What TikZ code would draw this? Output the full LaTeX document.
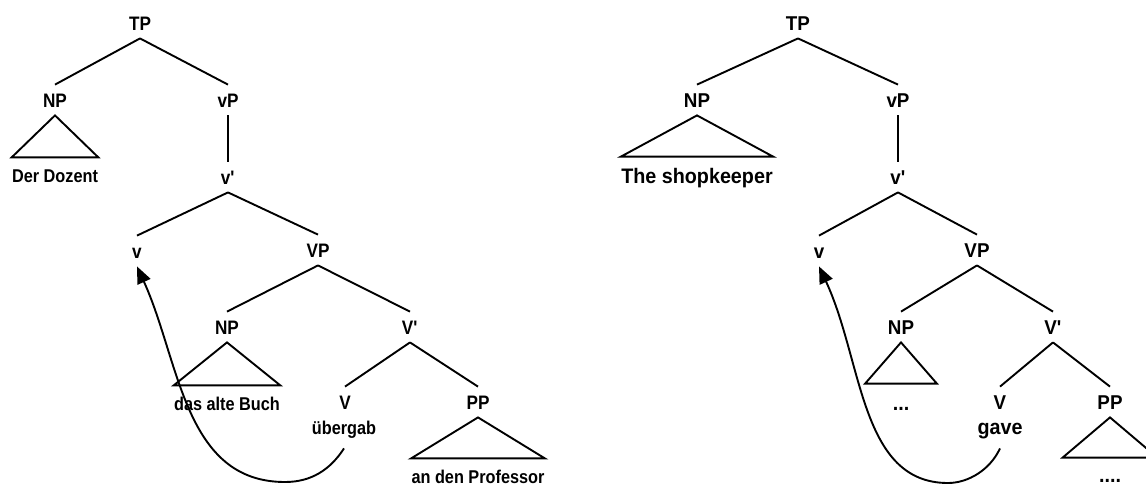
\documentclass[tikz,border=0pt]{standalone}
\usepackage{fontspec}
\newfontfamily\treefont{Liberation Sans}[FakeStretch=0.88]
\newfontfamily\treefontB{Liberation Sans}[FakeStretch=0.94]
\usepackage{tikz}
\usetikzlibrary{arrows.meta}
\tikzset{cat/.style={font=\treefont\bfseries\fontsize{9.75}{11}\selectfont,
    inner xsep=0pt, inner ysep=4pt, text height=7pt, text depth=0pt},
  catB/.style={cat, font=\treefontB\bfseries\fontsize{10}{11}\selectfont},
  word/.style={font=\treefont\bfseries\fontsize{9.25}{11}\selectfont, anchor=base,
    inner xsep=0pt, inner ysep=5.5pt, text height=6.6pt, text depth=1.5pt},
  wordB/.style={word, font=\treefontB\bfseries\fontsize{10.5}{12}\selectfont, text height=7.5pt},
  branch/.style={line width=0.95pt},
  move/.style={line width=0.95pt, -{Triangle[length=8.5pt,width=7pt]}}
}

\begin{document}
\begin{tikzpicture}[x=0.5pt,y=-0.5pt]
    \useasboundingbox (0,0) rectangle (1146,484);

    % Left tree
    \node[cat] (tpA) at (140,23) {TP};
    \node[cat] (npA) at (55,100) {NP};
    \node[cat] (vpA) at (228,100) {vP};
    \node[word] (dozent) at (55,182) {Der Dozent};
    \node[cat] (vbarA) at (228,177) {v\textquotesingle};
    \node[cat] (vA) at (137,251) {v};
    \node[cat] (bigvpA) at (318,250) {VP};
    \node[cat] (objA) at (227,327) {NP};
    \node[cat] (bigvbarA) at (410,327) {V\textquotesingle};
    \node[word] (buch) at (227,410) {das alte Buch};
    \node[cat] (verbcatA) at (345,402) {V};
    \node[word] (verbA) at (344,434) {übergab};
    \node[cat] (ppA) at (478,402) {PP};
    \node[word] (prof) at (478,483) {an den Professor};

    \draw[branch] (tpA.south) -- (npA.north);
    \draw[branch] (tpA.south) -- (vpA.north);
    \draw[branch] (npA.south) -- (dozent.north west) -- (dozent.north east) -- cycle;
    \draw[branch] (vpA.south) -- (vbarA.north);
    \draw[branch] (vbarA.south) -- (vA.north);
    \draw[branch] (vbarA.south) -- (bigvpA.north);
    \draw[branch] (bigvpA.south) -- (objA.north);
    \draw[branch] (bigvpA.south) -- (bigvbarA.north);
    \draw[branch] (objA.south) -- (buch.north west) -- (buch.north east) -- cycle;
    \draw[branch] (bigvbarA.south) -- (verbcatA.north);
    \draw[branch] (bigvbarA.south) -- (ppA.north);
    \draw[branch] (ppA.south) -- (prof.north west) -- (prof.north east) -- cycle;

    % Verb movement
    \coordinate (lowA) at (285,482);
    \draw[move] (verbA.south) .. controls (330,470) and (311,482) .. (lowA)
        .. controls (184,482) and (180,361) .. (vA.south);

    % Right tree
    \node[catB] (tpB) at (798,23) {TP};
    \node[catB] (npB) at (697,100) {NP};
    \node[catB] (vpB) at (898,100) {vP};
    \node[wordB] (keeper) at (697,183) {The shopkeeper};
    \node[catB] (vbarB) at (898,177) {v\textquotesingle};
    \node[catB] (vB) at (819,251) {v};
    \node[catB] (bigvpB) at (977,250) {VP};
    \node[catB] (objB) at (901,327) {NP};
    \node[catB] (bigvbarB) at (1053,327) {V\textquotesingle};
    \node[wordB, minimum width=35.5pt] (objdots) at (901,410) {...};
    \node[catB] (verbcatB) at (1000,402) {V};
    \node[wordB] (verbB) at (1000,434) {gave};
    \node[catB] (ppB) at (1110,402) {PP};
    \node[wordB, minimum width=47pt, inner ysep=4.5pt] (ppdots) at (1110,482) {....};

    \draw[branch] (tpB.south) -- (npB.north);
    \draw[branch] (tpB.south) -- (vpB.north);
    \draw[branch] (npB.south) -- (keeper.north west) -- (keeper.north east) -- cycle;
    \draw[branch] (vpB.south) -- (vbarB.north);
    \draw[branch] (vbarB.south) -- (vB.north);
    \draw[branch] (vbarB.south) -- (bigvpB.north);
    \draw[branch] (bigvpB.south) -- (objB.north);
    \draw[branch] (bigvpB.south) -- (bigvbarB.north);
    \draw[branch] (objB.south) -- (objdots.north west) -- (objdots.north east) -- cycle;
    \draw[branch] (bigvbarB.south) -- (verbcatB.north);
    \draw[branch] (bigvbarB.south) -- (ppB.north);
    \draw[branch] (ppB.south) -- (ppdots.north west) -- (ppdots.north east) -- cycle;

    % Verb movement
    \coordinate (lowB) at (948,483);
    \draw[move] (verbB.south) .. controls (990,470) and (968,483) .. (lowB)
        .. controls (860,483) and (863,361) .. (vB.south);
\end{tikzpicture}
\end{document}
